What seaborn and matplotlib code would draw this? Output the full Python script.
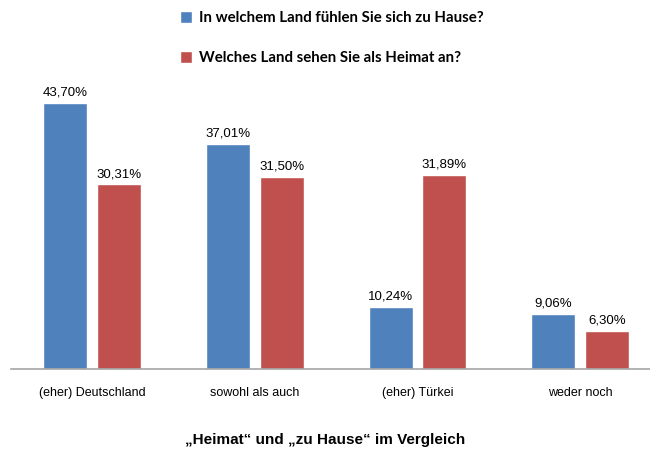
import matplotlib
matplotlib.use('Agg')
import matplotlib.pyplot as plt
import pandas as pd
import seaborn as sns

# Data
categories = ['(eher) Deutschland', 'sowohl als auch', '(eher) Türkei', 'weder noch']
series_names = ['In welchem Land fühlen Sie sich zu Hause?',
                'Welches Land sehen Sie als Heimat an?']
zu_hause = [43.70, 37.01, 10.24, 9.06]
heimat = [30.31, 31.50, 31.89, 6.30]

df = pd.DataFrame({
    'kategorie': categories * 2,
    'frage': [series_names[0]] * 4 + [series_names[1]] * 4,
    'wert': zu_hause + heimat,
})

sns.set_theme(style='white')
plt.rcParams['font.family'] = ['Liberation Sans', 'DejaVu Sans']
plt.rcParams['text.color'] = 'black'

fig = plt.figure(figsize=(6.5, 4.5), dpi=100)
ax = fig.add_axes([11 / 650, (450 - 369) / 450, 639 / 650, 290 / 450])

sns.barplot(data=df, x='kategorie', y='wert', hue='frage', order=categories,
            hue_order=series_names, palette=['#4F81BD', '#C0504D'],
            width=0.66, gap=0.18, ax=ax, legend=True, saturation=1)

ax.set_ylim(0, 290 / 6.09)
ax.set_xlim(-0.5, 3.43)
ax.set_xlabel('')
ax.set_ylabel('')
ax.set_yticks([])
for side in ['top', 'right', 'left']:
    ax.spines[side].set_visible(False)
ax.spines['bottom'].set_color('#A6A6A6')
ax.spines['bottom'].set_linewidth(1.2)
ax.tick_params(axis='x', length=0, pad=13, labelsize=9, colors='black')

for cont in ax.containers:
    labels = [f'{b.get_height():.2f}%'.replace('.', ',') for b in cont]
    ax.bar_label(cont, labels=labels, padding=3, fontsize=9.5, color='black')

handles, labs = ax.get_legend_handles_labels()
ax.legend_.remove()
fig.legend(handles, labs, loc='upper left', bbox_to_anchor=(166 / 650, 1.005),
           frameon=False, ncol=1, labelspacing=1.7, handlelength=0.85,
           handleheight=0.85, handletextpad=0.45, labelcolor='black',
           prop={'family': 'Lato', 'weight': 'bold', 'size': 10.8})

fig.text(0.5, 1 - 440 / 450, '„Heimat“ und „zu Hause“ im Vergleich',
         ha='center', va='center', fontsize=11, fontweight='bold', color='black')

fig.savefig('out.png', dpi=100)
